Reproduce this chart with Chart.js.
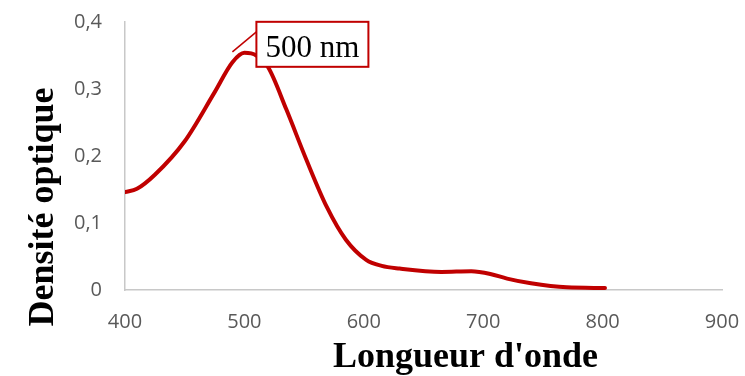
<!DOCTYPE html>
<html lang="fr">
<head>
  <meta charset="UTF-8" />
  <title>Densité optique</title>
  <script src="https://cdn.jsdelivr.net/npm/chart.js"></script>
  <style>
    html, body { margin: 0; padding: 0; background: #fff; }
    #wrap { width: 745px; height: 376px; position: relative; }
  </style>
</head>
<body>
  <div id="wrap"><canvas id="spectre"></canvas></div>

  <script>
    // longueurs d'onde (nm) et densité optique
    const wavelengths = [400, 410, 425, 450, 475, 490, 500, 510, 520, 535, 552, 569, 585, 602, 615, 630, 665, 690, 706, 720, 740, 770, 802];
    const density = [0.146, 0.151, 0.172, 0.222, 0.295, 0.340, 0.354, 0.350, 0.332, 0.270, 0.194, 0.124, 0.075, 0.045, 0.036, 0.032, 0.027, 0.028, 0.024, 0.017, 0.010, 0.004, 0.003];
    const xTicks = [400, 500, 600, 700, 800, 900];
    const yTicks = [0, 0.1, 0.2, 0.3, 0.4];
    const peakLabel = '500 nm';
    const peakIndex = 6;

    const red = '#c00000';
    const tickColor = '#595959';
    const axisColor = '#c8c8c8';

    // titres des axes + étiquette du pic
    const decorations = {
      id: 'decorations',
      afterDraw(chart) {
        const ctx = chart.ctx;
        const area = chart.chartArea;
        const pt = chart.getDatasetMeta(0).data[peakIndex];
        ctx.save();

        // étiquette "500 nm"
        const bx = pt.x + 12, by = pt.y - 31, bw = 112, bh = 45;
        ctx.strokeStyle = red;
        ctx.lineWidth = 1.5;
        ctx.beginPath();
        ctx.moveTo(pt.x - 12, pt.y - 1);
        ctx.lineTo(bx, pt.y - 21);
        ctx.stroke();
        ctx.fillStyle = '#fff';
        ctx.fillRect(bx, by, bw, bh);
        ctx.lineWidth = 2;
        ctx.strokeRect(bx, by, bw, bh);
        ctx.fillStyle = '#000';
        ctx.font = '31px "Liberation Serif", "Times New Roman", serif';
        ctx.textAlign = 'center';
        ctx.textBaseline = 'alphabetic';
        ctx.fillText(peakLabel, bx + bw / 2, by + 35);

        // titres
        ctx.font = 'bold 36px "Liberation Serif", "Times New Roman", serif';
        ctx.fillText("Longueur d'onde", (area.left + area.right) / 2 + 42, 367);
        ctx.translate(53, 207);
        ctx.rotate(-Math.PI / 2);
        ctx.fillText('Densité optique', 0, 0);
        ctx.restore();
      }
    };

    new Chart(document.getElementById('spectre'), {
      type: 'line',
      data: {
        datasets: [{
          data: wavelengths.map((w, i) => ({ x: w, y: density[i] })),
          borderColor: red,
          borderWidth: 4,
          pointRadius: 0,
          fill: false,
          cubicInterpolationMode: 'monotone',
          borderCapStyle: 'round'
        }]
      },
      options: {
        responsive: true,
        maintainAspectRatio: false,
        animation: false,
        layout: { padding: { top: 22, right: 23, left: 0, bottom: 0 } },
        plugins: {
          legend: { display: false },
          tooltip: { enabled: false }
        },
        scales: {
          x: {
            type: 'linear',
            min: 400,
            max: 900,
            afterBuildTicks: s => { s.ticks = xTicks.map(v => ({ value: v })); },
            afterFit: s => { s.height = 86; s.paddingLeft = 0; s.paddingRight = 0; },
            grid: { display: false, drawTicks: false },
            border: { display: true, color: axisColor, width: 1.5 },
            ticks: {
              color: tickColor,
              padding: 20,
              maxRotation: 0,
              font: { family: '"Open Sans", sans-serif', size: 20 }
            }
          },
          y: {
            min: 0,
            max: 0.4,
            afterBuildTicks: s => { s.ticks = yTicks.map(v => ({ value: v })); },
            afterFit: s => { s.width = 125; s.paddingTop = 0; s.paddingBottom = 0; },
            grid: { display: false, drawTicks: false },
            border: { display: true, color: axisColor, width: 1.5 },
            ticks: {
              color: tickColor,
              padding: 23,
              font: { family: '"Open Sans", sans-serif', size: 20 },
              callback: v => String(Math.round(v * 10) / 10).replace('.', ',')
            }
          }
        }
      },
      plugins: [decorations]
    });
  </script>
</body>
</html>
